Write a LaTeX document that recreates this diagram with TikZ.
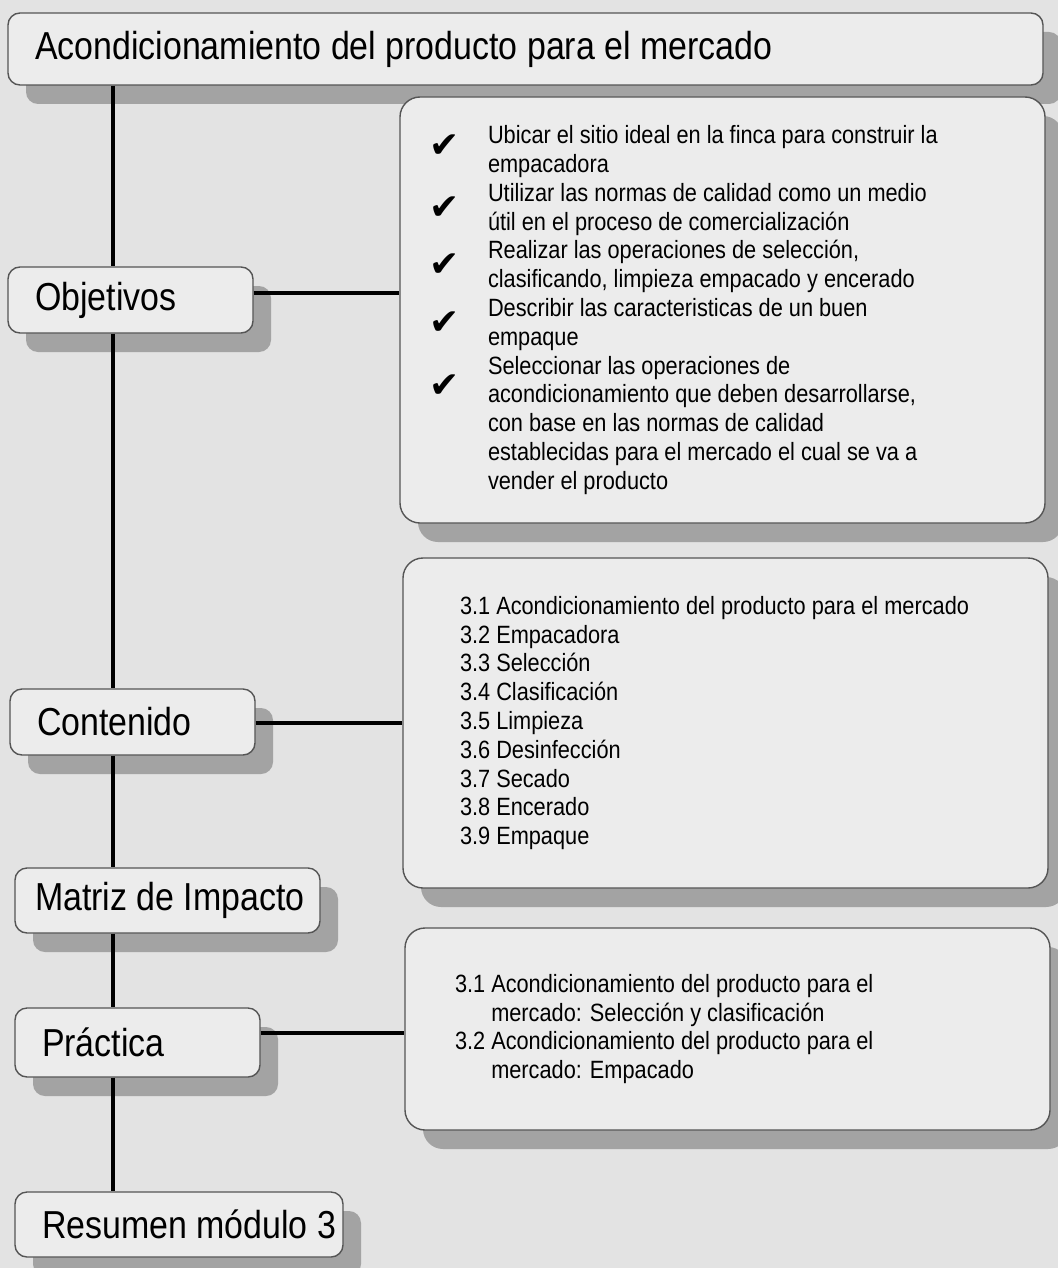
\documentclass[tikz,border=0pt]{standalone}
\usepackage{fontspec}
\setmainfont[FakeStretch=0.87]{Liberation Sans}
\newfontfamily\symfont{DejaVu Sans}
\usetikzlibrary{shadows}
\definecolor{paper}{RGB}{227,227,227}
\definecolor{boxfill}{RGB}{236,236,236}
\definecolor{shade}{RGB}{163,163,163}
\definecolor{edge}{RGB}{85,85,85}
\newcommand\chk[1][-9pt]{\leavevmode\llap{\raisebox{#1}[0pt][0pt]{\symfont\fontsize{18pt}{18pt}\selectfont ✔}\hspace{14pt}}}
\tikzset{
  tag/.style   = {draw=edge, line width=0.7pt, fill=boxfill, rounded corners=6pt,
                  inner xsep=13.5pt, inner ysep=0pt, align=flush left,
                  font=\fontsize{19.5pt}{23pt}\selectfont,
                  drop shadow={shadow xshift=9pt, shadow yshift=-9.5pt, fill=shade, opacity=1}},
  panel/.style = {tag, rounded corners=10pt, font=\fontsize{12.5pt}{14.4pt}\selectfont},
  wire/.style  = {line width=2.2pt},
}
\begin{document}
\begin{tikzpicture}[x=0.5pt,y=-0.5pt]
  \useasboundingbox[fill=paper] (0,0) rectangle (1058,1268);
  % left column
  \node[tag, text width=490.5pt, minimum height=36pt] (title) at (525.5,49)
    {\mbox{Acondicionamiento del producto para el mercado}};
  \node[tag, text width=95.5pt, minimum height=33pt] (obj) at (130.5,300) {Objetivos};
  \node[tag, text width=95.5pt, minimum height=33pt] (cont) at (132.5,722) {Contenido};
  \node[tag, inner xsep=10pt, text width=132.5pt, minimum height=32.5pt] (mat) at (167.5,900.5)
    {\mbox{Matriz de Impacto}};
  \node[tag, text width=95.5pt, minimum height=34.5pt] (prac) at (137.5,1042.5) {Práctica};
  \node[tag, text width=137pt, minimum height=32.5pt] (res) at (179,1224.5)
    {\mbox{Resumen módulo 3}};
  % right column
  \node[panel, inner xsep=44pt, text width=234.5pt, minimum height=213pt] (objlist) at (722.5,310) {
    \chk[-7pt]Ubicar el sitio ideal en la finca para construir la\\
    empacadora\\
    \chk Utilizar las normas de calidad como un medio\\
    útil en el proceso de comercialización\\
    \chk Realizar las operaciones de selección,\\
    clasificando, limpieza empacado y encerado\\
    \chk Describir las caracteristicas de un buen\\
    empaque\\
    \chk[-11.5pt]Seleccionar las operaciones de\\
    acondicionamiento que deben desarrollarse,\\
    con base en las normas de calidad\\
    establecidas para el mercado el cual se va a\\
    vender el producto};
  \node[panel, inner xsep=28.5pt, text width=265.5pt, minimum height=165pt] (contlist) at (725.5,723) {
    3.1 Acondicionamiento del producto para el mercado\\
    3.2 Empacadora\\
    3.3 Selección\\
    3.4 Clasificación\\
    3.5 Limpieza\\
    3.6 Desinfección\\
    3.7 Secado\\
    3.8 Encerado\\
    3.9 Empaque};
  \node[panel, inner xsep=25pt, text width=272.5pt, minimum height=101pt] (praclist) at (727.5,1029) {
    3.1 Acondicionamiento del producto para el\\
    \phantom{3.1 }mercado: Selección y clasificación\\
    3.2 Acondicionamiento del producto para el\\
    \phantom{3.2 }mercado: Empacado};
  % spine and branches
  \coordinate (sp) at (113,0);
  \coordinate (r1) at (0,293);
  \coordinate (r2) at (0,723);
  \coordinate (r3) at (0,1033);
  \draw[wire] (title.south -| sp) -- (obj.north -| sp);
  \draw[wire] (obj.south -| sp) -- (cont.north -| sp);
  \draw[wire] (cont.south -| sp) -- (mat.north -| sp);
  \draw[wire] (mat.south -| sp) -- (prac.north -| sp);
  \draw[wire] (prac.south -| sp) -- (res.north -| sp);
  \draw[wire] (obj.east |- r1) -- (objlist.west |- r1);
  \draw[wire] (cont.east |- r2) -- (contlist.west |- r2);
  \draw[wire] (prac.east |- r3) -- (praclist.west |- r3);
\end{tikzpicture}
\end{document}
